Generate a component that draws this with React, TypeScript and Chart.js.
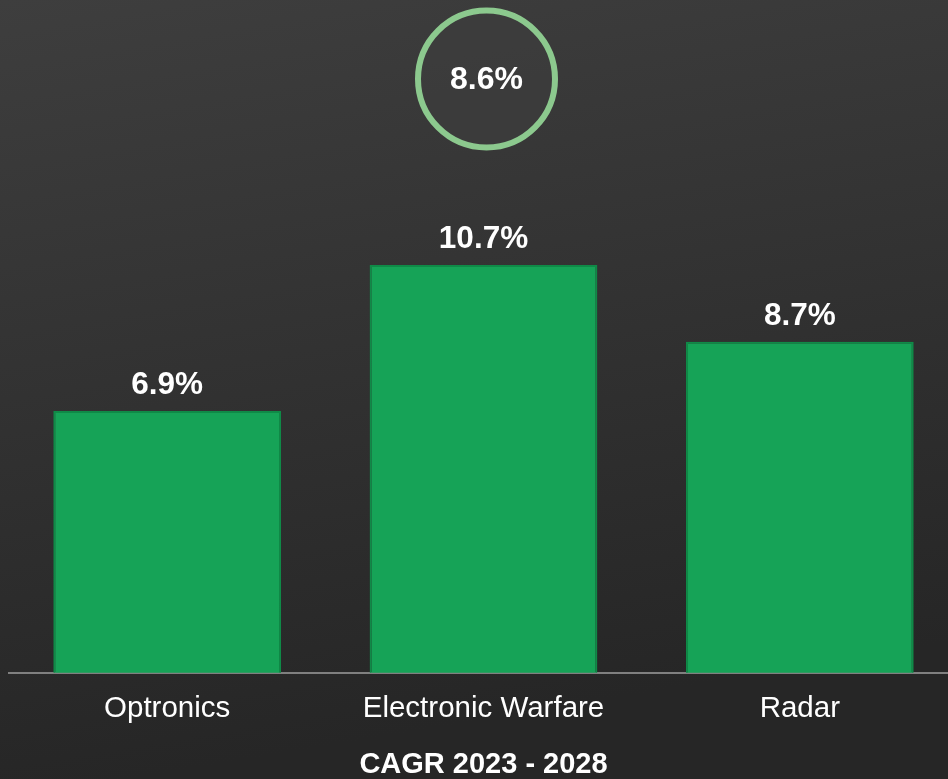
import React, { useEffect, useRef } from "react";
import { Chart, registerables } from "chart.js";

Chart.register(...registerables);

const categories = ["Optronics", "Electronic Warfare", "Radar"];
const cagrValues = [6.9, 10.7, 8.7];
const overallCagr = "8.6%";
const axisTitle = "CAGR 2023 - 2028";

const FONT = "'Liberation Sans', Arial, Helvetica, sans-serif";

export default function App() {
  const ref = useRef<HTMLCanvasElement | null>(null);

  useEffect(() => {
    document.body.style.margin = "0";
    document.body.style.overflow = "hidden";
    document.body.style.background = "#2e2e2e";
    const canvas = ref.current;
    if (!canvas) return;

    const bgPlugin = {
      id: "bg",
      beforeDraw(chart: any) {
        const ctx = chart.ctx;
        const g = ctx.createLinearGradient(0, 0, 130, 779);
        g.addColorStop(0, "#3e3e3e");
        g.addColorStop(1, "#262626");
        ctx.save();
        ctx.fillStyle = g;
        ctx.fillRect(0, 0, chart.width, chart.height);
        ctx.restore();
      },
    };

    const labelPlugin = {
      id: "labels",
      afterDatasetsDraw(chart: any) {
        const ctx = chart.ctx;
        const meta = chart.getDatasetMeta(0);
        ctx.save();
        ctx.fillStyle = "#ffffff";
        ctx.font = `bold 31.5px ${FONT}`;
        ctx.textAlign = "center";
        ctx.textBaseline = "alphabetic";
        meta.data.forEach((bar: any, i: number) => {
          ctx.fillText(cagrValues[i].toFixed(1) + "%", bar.x, bar.y - 17);
        });
        // overall circle
        const ca = chart.chartArea;
        const cx = (ca.left + ca.right) / 2 + 3;
        const cy = 79;
        ctx.beginPath();
        ctx.arc(cx, cy, 68.5, 0, Math.PI * 2);
        ctx.fillStyle = "rgba(62,62,62,0.6)";
        ctx.fill();
        ctx.lineWidth = 6;
        ctx.strokeStyle = "#8cc98e";
        ctx.stroke();
        ctx.fillStyle = "#ffffff";
        ctx.font = `bold 32px ${FONT}`;
        ctx.textBaseline = "middle";
        ctx.fillText(overallCagr, cx, cy + 1);
        ctx.restore();
      },
    };

    const chart = new Chart(canvas, {
      type: "bar",
      data: {
        labels: categories,
        datasets: [
          {
            data: cagrValues,
            backgroundColor: "#16a357",
            borderColor: "#0f8a47",
            borderWidth: 2,
            borderSkipped: "bottom",
            categoryPercentage: 1,
            barPercentage: 0.72,
          },
        ],
      },
      options: {
        animation: false,
        responsive: false,
        maintainAspectRatio: false,
        layout: { padding: { left: 9, right: 0, top: 20, bottom: -3 } },
        plugins: {
          legend: { display: false },
          tooltip: { enabled: false },
          title: { display: false },
        },
        scales: {
          y: {
            display: false,
            min: 0.08,
            max: 17.08,
          },
          x: {
            grid: { display: false, drawTicks: false, tickLength: 0 },
            border: { display: true, color: "#808080", width: 2 },
            ticks: {
              color: "#ffffff",
              font: { family: FONT, size: 29.5 },
              padding: 18,
              maxRotation: 0,
            },
            title: {
              display: true,
              text: axisTitle,
              color: "#ffffff",
              font: { family: FONT, size: 29, weight: "bold" },
              padding: { top: 3, bottom: 0 },
            },
          },
        },
      },
      plugins: [bgPlugin, labelPlugin],
    });

    return () => chart.destroy();
  }, []);

  return (
    <canvas
      ref={ref}
      width={958}
      height={779}
      style={{ display: "block", width: 958, height: 779 }}
    />
  );
}
